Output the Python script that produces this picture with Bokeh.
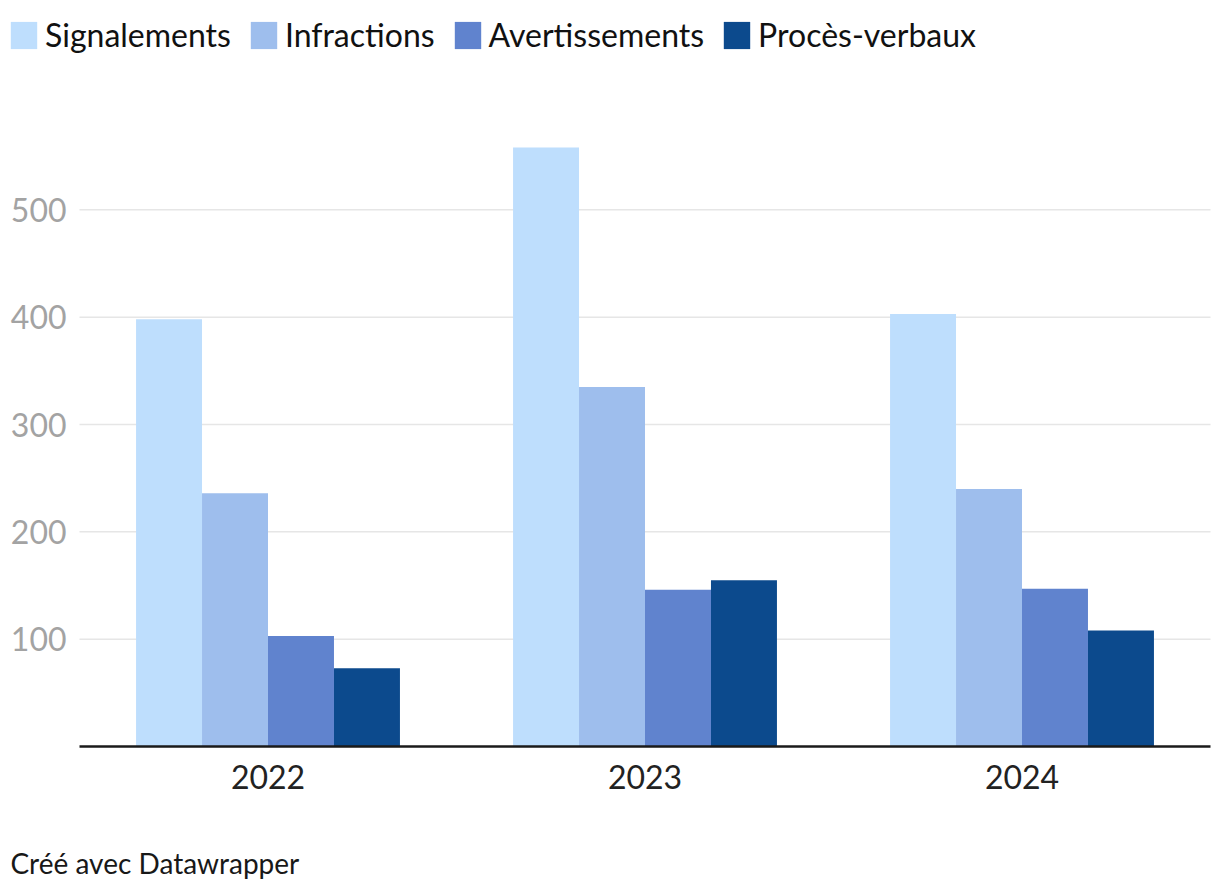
import numpy as np
from bokeh.plotting import figure
from bokeh.models import Range1d, Legend, LegendItem, Label, ColumnDataSource
from bokeh.core.properties import value
from bokeh.transform import dodge
from bokeh.embed import file_html
from bokeh.resources import INLINE

years = ["2022", "2023", "2024"]
series = ["Signalements", "Infractions", "Avertissements", "Procès-verbaux"]
signalements = [398, 558, 403]
infractions = [236, 335, 240]
avertissements = [103, 146, 147]
proces_verbaux = [73, 155, 108]
colors = ["#bedefd", "#9ebeed", "#6083ce", "#0c4a8d"]
y_ticks = [100, 200, 300, 400, 500]
y_tick_labels = ["100", "200", "300", "400", "500"]
footer = "Créé avec Datawrapper"

FONT = "Lato"

# ---- canvas geometry (pixels) ----
W, H = 1212, 884
PLOT_L, PLOT_R, PLOT_B = 79, 1210, 746   # plotting area on the canvas
BAND = (PLOT_R - PLOT_L) / len(years)     # px per category
PX_PER_UNIT = 644 / 600                   # px per value unit

def dx(px):   # canvas x pixel -> data x
    return (px - PLOT_L) / BAND - 0.5

def dy(py):   # canvas y pixel (from top) -> data y
    return (PLOT_B - py) / PX_PER_UNIT

xpos = np.arange(len(years))
src = ColumnDataSource(dict(x=xpos, year=years, s0=signalements, s1=infractions,
                            s2=avertissements, s3=proces_verbaux))

p = figure(width=W, height=H, x_range=Range1d(dx(0), dx(W)),
           y_range=Range1d(dy(H), dy(0)), output_backend="svg",
           toolbar_location=None, x_axis_location=None, y_axis_location=None,
           min_border=0, min_border_left=0, min_border_right=0,
           min_border_top=0, min_border_bottom=0)
p.outline_line_color = None
p.grid.visible = False
p.background_fill_color = "white"
p.border_fill_color = "white"

# gridlines
p.segment(x0=dx(PLOT_L), x1=dx(PLOT_R), y0=y_ticks, y1=y_ticks,
          line_color="#e6e6e6", line_width=1.5)

# bars
offsets = [-0.2625, -0.0875, 0.0875, 0.2625]
renderers = []
for i, col in enumerate(colors):
    r = p.vbar(x=dodge("x", offsets[i]), top="s%d" % i, bottom=0,
               width=0.175, source=src, fill_color=col, line_color=None)
    renderers.append(r)

# baseline
p.segment(x0=dx(PLOT_L), x1=dx(PLOT_R), y0=0, y1=0,
          line_color="#1a1a1a", line_width=2.5)

# y tick labels
p.text(x=dx(PLOT_L - 13), y=y_ticks, text=y_tick_labels, text_align="right",
       text_baseline="middle", text_font=value(FONT), text_font_size="32px",
       text_color="#a3a3a3")

# x category labels
p.text(x="x", y=dy(776), text="year", source=src, text_align="center",
       text_baseline="middle", text_font=value(FONT), text_font_size="32px",
       text_color="#222222")

legend = Legend(items=[LegendItem(label=n, renderers=[r]) for n, r in zip(series, renderers)],
                orientation="horizontal", location=(7, 830),
                glyph_width=33, glyph_height=34, label_standoff=5, spacing=16,
                padding=0, margin=0, label_text_font=FONT,
                label_text_font_size="32px", label_text_color="#111111",
                background_fill_alpha=0, border_line_color=None)
p.add_layout(legend, "center")

p.add_layout(Label(x=dx(10), y=dy(862), text=footer, text_font=FONT,
                   text_font_size="28px", text_color="#181818",
                   text_baseline="middle"))

open("out.html", "w").write(file_html(p, INLINE))
